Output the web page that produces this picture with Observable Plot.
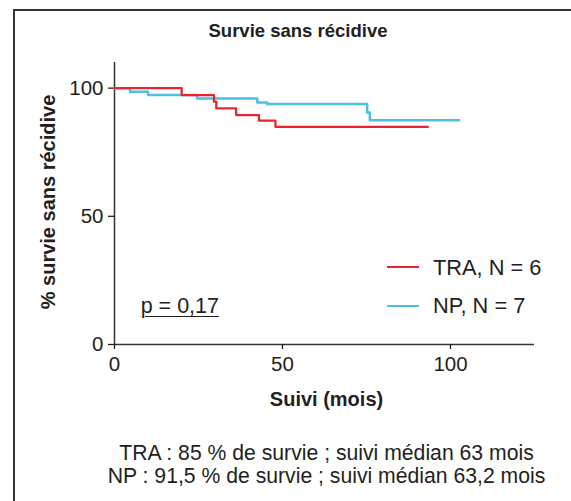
<!DOCTYPE html>
<html>
<head>
<meta charset="utf-8">
<script src="https://cdn.jsdelivr.net/npm/d3@7"></script>
<script src="https://cdn.jsdelivr.net/npm/@observablehq/plot@0.6"></script>
<style>
  body { margin: 0; background: #fff; font-family: "Liberation Sans", Arial, sans-serif; color: #231f20; }
  #wrap { position: relative; width: 571px; height: 501px; overflow: hidden; background: #fff; }
  #frame { position: absolute; left: 13px; top: 9px; width: 700px; height: 700px; border-left: 2px solid #333; border-top: 2px solid #333; }
  .t { position: absolute; line-height: 1; white-space: nowrap; }
  #chart { position: absolute; left: 0; top: 50px; }
  #chart svg text, #chart svg g { font-size: 20.5px !important; font-family: "Liberation Sans", Arial, sans-serif !important; }
  .lg { position: absolute; height: 2.5px; width: 32px; }
</style>
</head>
<body>
<div id="wrap">
  <div id="frame"></div>
  <div class="t" id="title" style="left:298px; top:21.6px; font-size:18.5px; font-weight:bold; transform:translateX(-50%);"></div>
  <div id="chart"></div>
  <div class="t" id="ylab" style="left:48px; top:201.5px; font-size:20px; font-weight:bold; transform:translate(-50%,-50%) rotate(-90deg);"></div>
  <div class="t" id="xlab" style="left:326.5px; top:389px; font-size:20px; font-weight:bold; transform:translateX(-50%);"></div>
  <div class="t" id="pval" style="left:140.7px; top:295.8px; font-size:21.5px; text-decoration:underline; text-decoration-thickness:1px; text-underline-offset:3px;"></div>
  <div class="lg" id="lg0" style="left:387px; top:265.5px;"></div>
  <div class="t" id="lt0" style="left:433px; top:256.5px; font-size:21.8px;"></div>
  <div class="lg" id="lg1" style="left:387px; top:304.5px;"></div>
  <div class="t" id="lt1" style="left:433px; top:294.8px; font-size:21.8px;"></div>
  <div class="t" id="cap0" style="left:326.5px; top:441.5px; font-size:21.2px; transform:translateX(-50%);"></div>
  <div class="t" id="cap1" style="left:326.5px; top:464.9px; font-size:21.2px; transform:translateX(-50%);"></div>
</div>
<script>
// ---- Data ----
const traTime = [0, 20, 29.6, 30.3, 36.2, 43, 47.9, 93.3];
const traSurv = [100, 97.3, 94.7, 92.1, 89.5, 87.3, 84.9, 84.9];
const npTime  = [0, 4.6, 10, 24.6, 42.5, 45.4, 75.2, 76, 102.5];
const npSurv  = [100, 98.6, 97.3, 96.0, 94.4, 93.8, 90.5, 87.5, 87.5];
const seriesNames  = ["TRA, N = 6", "NP, N = 7"];
const seriesColors = ["#e8252e", "#4dbfe0"];
const xTicks = [0, 50, 100];
const yTicks = [0, 50, 100];
const titleText = "Survie sans récidive";
const xLabel = "Suivi (mois)";
const yLabel = "% survie sans récidive";
const pText = "p = 0,17";
const captionLines = [
  "TRA : 85 % de survie ; suivi médian 63 mois",
  "NP : 91,5 % de survie ; suivi médian 63,2 mois"
];

const tra = traTime.map((t, i) => ({t, s: traSurv[i]}));
const np  = npTime.map((t, i) => ({t, s: npSurv[i]}));

const plot = Plot.plot({
  width: 571,
  height: 370,
  marginLeft: 114,
  marginRight: 37,
  marginTop: 12,
  marginBottom: 76,
  x: {domain: [0, 125]},
  y: {domain: [0, 110]},
  style: {fontFamily: "Liberation Sans, Arial, sans-serif", fontSize: "20.5px", color: "#231f20", background: "transparent", overflow: "visible"},
  marks: [
    Plot.ruleY([0], {stroke: "#333", strokeWidth: 1.5}),
    Plot.ruleX([0], {stroke: "#333", strokeWidth: 1.5}),
    Plot.axisX({ticks: xTicks, tickSize: 5, tickPadding: 7, label: null, strokeWidth: 1.3}),
    Plot.axisY({ticks: yTicks, tickSize: 6, tickPadding: 5, label: null, strokeWidth: 1.3}),
    Plot.line(np,  {x: "t", y: "s", curve: "step-after", stroke: seriesColors[1], strokeWidth: 2.5}),
    Plot.line(tra, {x: "t", y: "s", curve: "step-after", stroke: seriesColors[0], strokeWidth: 2.3})
  ]
});
d3.select(plot).selectAll("text").style("font-size", "20.5px");
document.getElementById("chart").appendChild(plot);

document.getElementById("title").textContent = titleText;
document.getElementById("xlab").textContent = xLabel;
document.getElementById("ylab").textContent = yLabel;
document.getElementById("pval").textContent = pText;
seriesNames.forEach((n, i) => {
  document.getElementById("lt" + i).textContent = n;
  document.getElementById("lg" + i).style.background = seriesColors[i];
});
captionLines.forEach((c, i) => document.getElementById("cap" + i).textContent = c);
</script>
</body>
</html>
